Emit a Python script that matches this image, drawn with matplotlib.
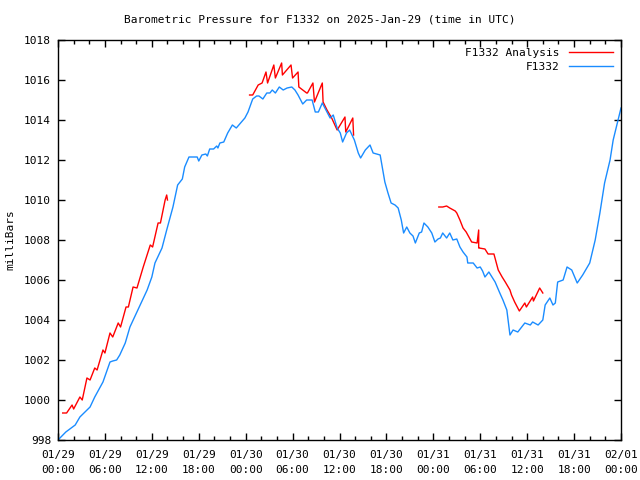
import matplotlib
matplotlib.use("Agg")
import matplotlib.pyplot as plt
import numpy as np

# hours since 2025-01-29 00:00 UTC
obs_t = [0.0, 0.5, 1.0, 2.2, 2.8, 4.1, 4.7, 5.75, 6.65, 7.0, 7.5, 7.9, 8.6, 9.2, 10.5, 11.4, 12.0, 12.4,
         13.3, 13.9, 14.7, 15.3, 15.9, 16.2, 16.75, 17.8, 18.0, 18.4, 18.9, 19.1, 19.4, 19.9, 20.3,
         20.45, 20.7, 21.2, 21.7, 22.3, 22.8, 23.9, 24.3, 24.9, 25.4, 25.7, 26.2, 26.7, 27.1, 27.4,
         27.8, 28.3, 28.8, 29.3, 29.9, 30.3, 30.7, 31.3, 31.8, 32.5, 32.9, 33.3, 33.8, 34.4, 34.8, 35.2,
         35.7, 36.1, 36.4, 36.9, 37.3, 37.9, 38.4, 38.7, 39.3, 39.9, 40.3, 41.2, 41.8, 42.2, 42.6, 43.1,
         43.5, 43.9, 44.2, 44.6, 45.0, 45.4, 45.7, 46.2, 46.5, 46.8, 47.3, 47.8, 48.2, 48.6, 48.9, 49.2,
         49.7, 50.1, 50.5, 51.0, 51.4, 51.8, 52.3, 52.4, 53.1, 53.6, 54.0, 54.3, 54.6, 55.1, 55.9, 56.5,
         56.9, 57.4, 57.8, 58.2, 58.8, 59.7, 60.4, 60.7, 61.4, 62.0, 62.3, 62.9, 63.3, 63.6, 63.9, 64.6,
         65.1, 65.7, 66.4, 67.1, 68.0, 68.7, 69.3, 69.9, 70.6, 71.0, 72.0]
obs_p = [998.0, 998.2, 998.4, 998.75, 999.15, 999.65, 1000.15, 1000.9, 1001.9, 1001.95, 1002.0, 1002.25,
         1002.85, 1003.65, 1004.75, 1005.5, 1006.15, 1006.85, 1007.6, 1008.5, 1009.65, 1010.75, 1011.05,
         1011.65, 1012.15, 1012.15, 1011.95, 1012.25, 1012.3, 1012.2, 1012.55, 1012.55, 1012.7, 1012.6,
         1012.85, 1012.9, 1013.35, 1013.75, 1013.6, 1014.1, 1014.4, 1015.05, 1015.2, 1015.2, 1015.05,
         1015.35, 1015.35, 1015.5, 1015.35, 1015.65, 1015.5, 1015.6, 1015.65, 1015.5, 1015.25, 1014.8,
         1015.0, 1015.0, 1014.4, 1014.4, 1014.85, 1014.4, 1014.1, 1014.25, 1013.6, 1013.35, 1012.9,
         1013.35, 1013.5, 1013.0, 1012.35, 1012.1, 1012.5, 1012.75, 1012.35, 1012.25, 1010.9, 1010.35,
         1009.85, 1009.75, 1009.6, 1009.0, 1008.35, 1008.65, 1008.35, 1008.2, 1007.85, 1008.35, 1008.4,
         1008.85, 1008.65, 1008.35, 1007.9, 1008.05, 1008.1, 1008.35, 1008.1, 1008.35, 1008.0, 1008.05,
         1007.65, 1007.4, 1007.15, 1006.85, 1006.85, 1006.6, 1006.65, 1006.45, 1006.15, 1006.4, 1005.9,
         1005.35, 1005.0, 1004.5, 1003.25, 1003.5, 1003.4, 1003.85, 1003.75, 1003.9, 1003.75, 1004.0,
         1004.75, 1005.1, 1004.75, 1004.85, 1005.9, 1006.0, 1006.65, 1006.5, 1005.85, 1006.25, 1006.85,
         1008.0, 1009.35, 1010.85, 1012.0, 1013.0, 1014.6]

ana1_t = [0.6, 1.1, 1.8, 2.0, 2.8, 3.1, 3.7, 4.1, 4.7, 5.0, 5.75, 6.0, 6.65, 7.0, 7.7, 8.0, 8.7, 9.0,
          9.6, 10.1, 10.9, 11.8, 12.1, 12.8, 13.1, 13.7, 13.9, 14.0]
ana1_p = [999.35, 999.35, 999.75, 999.55, 1000.15, 1000.0, 1001.1, 1001.0, 1001.6, 1001.5, 1002.5,
          1002.35, 1003.35, 1003.15, 1003.85, 1003.65, 1004.65, 1004.65, 1005.65, 1005.6, 1006.65,
          1007.75, 1007.65, 1008.85, 1008.85, 1010.0, 1010.25, 1010.0]
ana2_t = [24.5, 24.9, 25.6, 26.1, 26.6, 26.8, 27.6, 27.8, 28.6, 28.7, 29.8, 30.0, 30.7, 30.8, 31.8, 31.9,
          32.6, 32.8, 33.8, 33.9, 34.4, 35.0, 35.7, 36.7, 36.8, 37.7, 37.8]
ana2_p = [1015.25, 1015.25, 1015.75, 1015.85, 1016.4, 1015.85, 1016.75, 1016.1, 1016.85, 1016.25,
          1016.75, 1016.1, 1016.4, 1015.65, 1015.35, 1015.35, 1015.85, 1014.9, 1015.85, 1014.9, 1014.5,
          1014.1, 1013.5, 1014.15, 1013.4, 1014.1, 1013.25]
ana3_t = [48.7, 49.2, 49.7, 50.1, 50.8, 51.0, 51.4, 51.8, 52.2, 52.9, 53.6, 53.8, 53.8, 53.85, 54.6, 55.0,
          55.75, 56.3, 56.8, 57.2, 57.8, 58.0, 58.4, 59.0, 59.7, 59.9, 60.7, 60.8, 61.6, 62.0]
ana3_p = [1009.65, 1009.65, 1009.7, 1009.6, 1009.45, 1009.35, 1009.0, 1008.6, 1008.4, 1007.9, 1007.85,
          1008.5, 1007.6, 1007.6, 1007.55, 1007.3, 1007.3, 1006.5, 1006.15, 1005.9, 1005.5, 1005.25,
          1004.9, 1004.45, 1004.85, 1004.65, 1005.15, 1004.95, 1005.6, 1005.35]

xtick_hours = list(range(0, 73, 6))
xtick_labels = ["01/29\n00:00", "01/29\n06:00", "01/29\n12:00", "01/29\n18:00",
                "01/30\n00:00", "01/30\n06:00", "01/30\n12:00", "01/30\n18:00",
                "01/31\n00:00", "01/31\n06:00", "01/31\n12:00", "01/31\n18:00",
                "02/01\n00:00"]
yticks = list(range(998, 1019, 2))

RED = "#ff0000"
BLUE = "#1a8cff"
FONT = "DejaVu Sans Mono"
plt.rcParams['font.family'] = [FONT]
plt.rcParams['font.size'] = 8

LW = 1.0

fig = plt.figure(figsize=(6.4, 4.8), dpi=100)
ax = fig.add_axes([58/640, 40/480, (621-58)/640, 400/480])

ax.plot(ana1_t, ana1_p, color=RED, lw=LW, label="F1332 Analysis")
ax.plot(ana2_t, ana2_p, color=RED, lw=LW)
ax.plot(ana3_t, ana3_p, color=RED, lw=LW)
ax.plot(obs_t, obs_p, color=BLUE, lw=LW, label="F1332")

ax.set_xlim(0, 72)
ax.set_ylim(998, 1018)
ax.set_xticks(xtick_hours)
ax.set_xticklabels(xtick_labels, linespacing=1.6)
ax.set_xticks(np.arange(0, 73, 2), minor=True)
ax.set_yticks(yticks)
ax.set_yticklabels([str(v) for v in yticks])
ax.tick_params(which='both', direction='in', top=True, right=True, width=1)
ax.tick_params(which='major', length=5, pad=7)
ax.tick_params(which='minor', length=3)
ax.tick_params(axis='y', pad=5)
for s in ax.spines.values():
    s.set_linewidth(1)

ax.set_ylabel("milliBars", labelpad=6)
fig.text(0.5, 1 - 19/480, "Barometric Pressure for F1332 on 2025-Jan-29 (time in UTC)",
         ha='center', va='center', fontsize=8)

leg = ax.legend(loc='upper right', frameon=False, markerfirst=False, handlelength=4,
                borderaxespad=0.3, labelspacing=0.35, fontsize=8)

fig.savefig("out.png", dpi=100)
